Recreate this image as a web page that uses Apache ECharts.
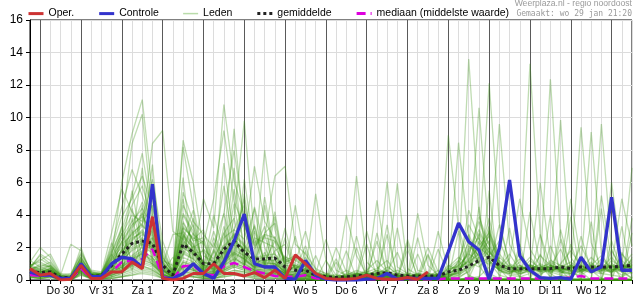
<!DOCTYPE html>
<html><head><meta charset="utf-8">
<script src="https://cdn.jsdelivr.net/npm/echarts@6/dist/echarts.min.js"></script>
<style>html,body{margin:0;padding:0;background:#fff}#c{width:635px;height:300px}</style>
</head><body><div id="c"></div>
<script>
// hours counted from wo 29 jan 00:00; 6-hourly steps
const startHour = 18;
const stepHours = 6;
const endHour = 372;
const dayLabels = ['Do 30','Vr 31','Za 1','Zo 2','Ma 3','Di 4','Wo 5','Do 6','Vr 7','Za 8','Zo 9','Ma 10','Di 11','Wo 12'];
const yTicks = [0, 16, 2];

const oper = [0.7,0.3,0.4,0.0,0.05,0.9,0.1,0.1,0.5,0.5,1.1,0.7,3.9,0.1,0.0,0.1,0.4,0.4,1.0,0.4,0.4,0.25,0.45,0.15,0.6,0.1,1.55,1.0,0.4,0.1,0.05,0.05,0.1,0.3,0.1,0.05,0.05,0.15,0.05,0.5];
const controle = [0.5,0.3,0.3,0.1,0.1,1.0,0.2,0.2,1.0,1.4,1.3,0.8,5.9,0.1,0.1,0.4,1.0,0.4,0.1,1.1,2.4,4.05,1.0,0.8,0.8,0.1,0.05,1.2,0.3,0.05,0,0,0,0.05,0.1,0.4,0.05,0.1,0.1,0.1,0.1,1.75,3.5,2.35,1.85,0.05,1.95,6.15,1.5,0.6,0.15,0.1,0.15,0.05,1.4,0.5,0.8,5.1,0.6,0.6];
const gemiddelde = [0.5,0.45,0.5,0.15,0.15,0.9,0.25,0.25,0.9,1.6,2.25,2.4,2.25,0.9,0.3,2.2,1.7,1.0,1.0,1.9,2.4,1.7,1.3,1.3,1.35,0.8,0.6,0.6,0.3,0.2,0.15,0.2,0.25,0.3,0.4,0.45,0.3,0.25,0.25,0.25,0.25,0.5,0.6,0.85,1.2,1.4,0.9,0.7,0.7,0.7,0.7,0.7,0.8,0.7,0.8,0.8,0.8,0.8,0.85,0.9];
const mediaan = [0.3,0.25,0.3,0.05,0.05,0.7,0.1,0.1,0.5,1.1,1.2,1.3,1.9,0.2,0.05,0.85,0.9,0.35,0.3,0.85,1.05,0.8,0.55,0.4,0.25,0.2,0.2,0.3,0.1,0.05,0.05,0.05,0.05,0.05,0.05,0.05,0.05,0.05,0.05,0.05,0.05,0.1,0.1,0.1,0.1,0.1,0.1,0.1,0.1,0.1,0.1,0.1,0.1,0.15,0.25,0.1,0.1,0.1,0.1,0.1];

const leden = [
[0.6,1.0,0.8,0.1,0,1.2,0.3,0.2, 0.8,1.5,3.2,4.1,2.5,0.6,0.1,2.8,1.9, 0.3,1.8,0.6,2.9,0.8,3.4,1.0,0.4,0.2, 0.4,0.3,0.1,0,0,0.1,0.2,0.1,0.3,0.2,0.1,0,0.1,0.2,0.1, 0.1,0.2,0.5,1.3,2.0,0.6,0.3,0.2,0.4,0.8,0.5,0.3,0.2,0.6,1.1,0.4,0.3,0.2,0.5],
[0.4,0.3,0.5,0.2,0.1,0.8,0.2,0.3, 0.5,1.9,0.6,2.2,3.0,0.3,0.2,1.5,2.9, 0.5,0.4,1.0,1.6,1.3,0.8,0.9,0.8,0.4, 0.2,0.5,0.2,0.1,0,0,0.1,0.3,2.4,0.4,0.2,0.1,0,0,0.1, 0,0,0.1,4.5,0.1,0,0,0,0.1,0,0,0.1,0,0,0.1,0,0,0.1,0],
[1.1,2.0,1.4,0.3,0.1,1.5,0.4,0.2, 2.1,4.5,6.8,5.2,3.4,1.2,0.3,3.6,2.4, 2.6,0.9,4.1,1.5,5.3,1.2,2.8,0.6,1.4, 1.2,0.8,0.3,0.2,0.1,0.4,0.2,0.1,0.2,0.6,0.3,0.2,0.4,0.3,0.2, 8.9,3.2,1.1,0.8,1.5,2.4,0.9,0.5,1.2,0.7,0.4,1.0,1.8,0.9,0.6,1.3,0.7,0.5,1.1],
[0.3,0.2,0.3,0,0,0.6,0.1,0.1, 0.3,0.6,1.1,1.5,1.2,0.3,0.1,0.9,0.7, 0.2,0.2,0.5,0.8,0.6,0.4,0.4,0.3,0.2, 0.1,0.1,0,1.2,0,0,0,0,0.1,0.1,0,0,0,0,0, 0,0.1,0.6,2.3,1.1,0.3,0.1,0,0,1.6,0.4,0,0,0.1,0,0,1.9,0.5,0.1],
[0.5,0.4,0.6,0.1,0.2,0.9,0.3,0.4, 1.0,2.2,2.8,3.5,4.6,1.5,0.4,2.2,1.8, 1.1,0.9,2.2,9.3,3.0,1.4,1.5,1.6,0.8, 0.6,1.4,0.4,0.2,0.1,0.1,0.3,0.6,1.2,0.5,0.2,0.1,0.2,0.1,0.3, 0.3,0.9,13.6,4.1,1.2,0.6,0.4,0.9,0.5,0.3,0.8,0.6,0.4,0.3,0.7,0.5,1.2,0.8,0.4],
[0.8,1.5,1.0,0.2,0,1.1,0.2,0.3, 1.4,6.0,9.0,11.1,5.3,2.0,0.5,4.1,3.0, 0.9,3.0,1.2,5.6,2.0,4.4,0.8,3.9,0.6, 4.6,1.0,0.5,0.3,0.2,0.3,0.6,0.4,0.3,0.8,0.4,0.3,0.2,0.4,0.3, 0,0,0,0.1,0,0,3.2,0.1,0,0,0,0,0.1,0,0,0,0.1,0,0],
[0.2,0.1,0.2,0,0,0.5,0.1,0, 0.2,0.4,0.7,0.9,0.6,0.2,0,0.5,0.4, 0.1,0.1,0.3,0.5,0.4,0.2,0.2,0.2,0.1, 0,0,0,0,0,0,0,0,0,0,0,0,0,0,0, 0.2,0.5,1.8,10.6,2.6,1.1,0.7,0.4,0.6,1.5,0.9,0.5,0.3,1.0,0.6,0.8,0.4,1.6,0.9],
[0.7,0.6,0.9,0.3,2.2,1.8,0.5,0.3, 1.2,1.8,2.4,3.1,2.2,0.9,0.3,8.6,6.0, 1.9,1.3,2.6,3.1,2.5,7.0,3.6,2.5,1.3, 0.8,0.6,5.3,1.2,0.3,0.2,0.4,0.3,0.6,0.4,0.3,0.2,0.3,0.2,0.4, 0.1,0,0.1,0.2,0.8,3.4,1.0,0.2,0.1,0,0,0.1,0,2.7,0.6,0.1,0,0,0],
[0.4,0.2,0.4,0.1,0.1,0.7,0.2,0.2, 1.6,0.4,3.1,0.9,2.6,0.5,1.4,0.6,2.1, 0.4,0.4,0.9,1.3,1.0,0.6,0.7,0.6,0.3, 0.3,0.2,1.5,0.1,0,0.1,0.1,0.2,0.1,0.3,0.1,0.1,0.1,0,0.1, 0.4,8.45,2.5,1.0,3.1,0.8,1.6,0.6,0.9,0.5,1.1,0.7,0.6,0.4,0.9,0.6,0.5,0.9,0.7],
[0.9,1.2,1.6,0.4,0.3,1.4,0.3,0.4, 2.9,5.6,4.2,3.3,8.4,9.2,3.0,2.5,1.6, 1.8,0.4,3.3,1.1,2.2,0.5,4.6,1.3,0.3, 0.9,0.7,0.2,0.1,0.1,4.0,1.5,0.3,0.2,0.4,0.6,0.3,0.2,0.3,0.2, 0,0.1,0,0,0.2,0.1,0,0,0,2.8,0,0,0,0,0.1,0,0,0.1,0],
[0.3,0.3,0.3,0.1,0,0.6,0.2,0.3, 0.4,0.8,1.3,1.7,1.4,0.4,0.1,1.1,0.9, 0.3,0.3,0.7,1.1,0.8,0.5,0.5,0.5,0.3, 0.2,0.1,0.1,0,0,0,0.1,0.1,0.2,0.1,0.1,0,0.1,0.1,0, 0.5,1.1,3.4,2.2,12.1,3.5,1.0,0.7,1.4,0.6,0.8,1.9,0.5,0.7,0.4,1.0,0.8,0.6,1.3],
[0.5,0.5,0.7,0.2,0.1,1.0,0.4,0.2, 0.9,1.4,2.0,2.6,2.1,0.7,0.2,2.0,1.5, 5.0,3.2,10.8,6.1,4.0,2.3,2.8,2.6,1.2, 1.5,0.9,0.4,0.3,0.2,0.1,0.2,0.5,0.4,0.3,0.2,0.4,0.3,0.2,0.6, 0,0,0.2,0.1,0,0,0.1,0,4.2,0.9,0.2,0,0.1,0,0,0,2.4,0.6,0.1],
[1.2,0.8,0.6,0.1,0,0.8,0.1,0.1, 0.7,2.4,0.8,4.2,1.3,1.1,0.3,3.2,0.6, 0.7,0.6,1.4,1.9,1.5,0.9,1.0,1.0,0.5, 0.4,0.6,0.2,0.1,0.1,1.8,0.1,0.2,0.4,0.3,0.1,0.1,0.2,0.1,0.2, 0.2,0.6,1.2,2.8,1.6,9.6,2.2,0.9,0.5,0.8,0.6,0.4,0.9,0.6,1.4,0.7,0.9,0.5,0.8],
[0.1,0.1,0.2,0,0,0.4,0,0.1, 0.1,0.2,0.4,0.6,0.5,0.1,0,0.3,0.2, 0.1,0.1,0.2,0.3,0.2,0.1,0.1,0.1,0.1, 0,0,0,0,0,0,0,0,2.9,0.4,0,0,0,0,0, 0,0,0,0,0.1,0,0,0,0,0,0,0,0,0,0,0,0,0,0],
[0.6,0.7,0.5,0.2,0.3,1.3,0.5,0.4, 1.5,2.6,3.6,4.4,3.3,1.4,0.4,3.0,2.2, 0.6,2.3,1.0,3.8,1.2,0.8,2.9,3.5,0.9, 0.7,1.1,0.3,0.2,0.1,0.1,0.4,0.2,4.9,0.9,0.3,0.2,0.3,0.2,0.2, 0.8,1.4,0.9,1.9,2.7,1.3,5.8,1.5,0.8,0.6,1.2,0.9,0.7,2.1,0.8,0.6,1.0,0.7,0.9],
[0.4,0.3,0.6,0.1,0.1,0.7,0.2,0.3, 0.6,1.1,1.9,2.3,2.0,0.6,0.2,1.6,1.3, 0.6,0.5,1.2,1.7,1.3,0.8,0.9,0.8,0.4, 0.3,0.3,0.1,0.1,1.3,0.1,0.1,0.1,0.2,0.2,0.1,0.1,0.1,0.1,0.1, 0.1,0,0.1,1.5,0.4,0.1,0,0,0.1,0,0,3.1,0.7,0,0,0.1,0,0,1.4],
[0.7,1.6,1.2,0.3,0.2,2.0,0.3,0.2, 1.8,3.1,5.2,7.8,4.0,1.3,0.5,8.2,4.5, 1.5,1.1,2.9,3.8,9.8,2.6,2.3,2.0,1.0, 1.1,3.0,0.6,0.4,0.2,0.3,0.5,0.4,0.3,6.05,0.8,0.4,0.3,0.2,0.3, 0.3,0.4,2.1,1.5,0.9,0.7,1.3,5.0,1.9,0.9,0.5,0.8,1.1,0.6,0.9,1.5,0.6,0.8,1.6],
[0.3,0.2,0.3,0,0,0.5,0.1,0.2, 0.3,0.5,0.9,1.2,1.0,0.3,0.1,0.8,0.6, 0.3,0.2,0.6,0.9,0.7,0.4,0.4,0.4,0.2, 0.1,0.2,0.1,0,0,0,0.1,0,0.1,0.1,0.1,0,1.6,0.1,0, 0,0,0,0.1,0,0,0,0,0,0.1,0,0,3.9,0,0,0,0,0.1,0],
[0.5,0.4,0.4,0.2,0.1,0.9,0.3,0.3, 0.4,2.9,1.1,1.7,5.1,0.8,0.3,2.1,3.4, 0.8,0.7,1.6,2.1,1.7,1.0,1.1,1.0,0.5, 0.5,0.4,0.2,0.1,0.1,0.1,0.2,2.2,0.2,0.3,0.2,0.1,0.2,0.1,0.2, 0.6,0.9,1.5,3.6,2.1,0.9,0.6,1.1,13.3,2.8,0.9,0.6,0.8,0.5,1.0,0.7,1.4,0.6,0.5],
[0.9,0.5,0.7,0.1,0,0.8,0.2,0.4, 1.1,1.4,2.5,3.0,1.9,0.6,0.2,2.6,2.0, 2.4,0.6,1.1,4.7,0.9,2.6,0.7,1.8,2.2, 0.6,2.1,0.3,0.2,0.1,0.2,0.3,0.2,0.4,0.2,0.3,0.2,0.1,0.2,0.1, 0,0,2.6,0.9,0,0,0,0.1,0,0,0,0.1,0,0,0.1,5.2,1.1,0,0],
[0.2,0.1,0.1,0,0,0.3,0.1,0.1, 0.1,0.2,0.3,0.4,0.3,0.1,0,0.2,0.2, 0.1,0.1,0.2,0.3,0.3,0.1,0.1,0.1,0.1, 0,0,0,0,0,0,0,0,0,0,0,2.3,0,0,0, 0.1,0.3,0.7,1.1,1.8,0.5,0.4,0.3,0.7,6.0,1.3,0.5,0.4,0.9,0.5,0.4,0.7,0.3,0.6],
[0.6,0.9,0.8,0.3,0.4,1.6,0.6,0.5, 1.6,3.3,8.4,10.2,3.8,1.6,0.6,3.2,2.6, 2.2,5.0,9.2,4.8,3.3,2.1,2.6,2.4,1.1, 1.3,0.8,0.4,2.5,0.6,0.3,6.4,1.1,0.5,0.4,0.3,0.2,0.4,0.3,0.2, 0,0,0,0,0,0,0,0,0,0,0,0,0,0,0,4.4,0,0,0],
[0.4,0.3,0.5,0.1,0.1,0.8,0.2,0.2, 0.5,0.8,1.2,1.6,1.3,0.4,0.1,1.0,0.8, 0.4,0.3,0.8,1.2,0.9,0.6,0.6,0.6,0.3, 0.2,0.3,0.1,0.1,0,0.1,0.1,0.2,0.1,0.2,0.1,0.1,0.1,0.1,0.1, 0.4,0.7,1.0,2.4,1.4,0.8,0.5,0.6,0.9,0.7,12.35,2.6,0.8,0.6,0.7,0.9,0.5,1.0,0.8],
[0.8,1.3,0.9,0.2,0.1,1.1,0.3,0.3, 1.3,2.0,2.9,3.4,2.7,1.0,0.3,2.7,2.1, 0.5,1.7,5.8,2.1,3.6,0.9,1.4,4.2,0.6, 0.8,0.6,0.3,0.2,0.1,0.2,0.2,0.4,0.3,0.5,1.7,0.2,0.3,0.2,0.3, 0.1,0.1,0,0.1,0,0,0,1.8,0.5,0,0,0,0,0.1,0,0,0.1,0,3.8],
[0.3,0.2,0.4,0.1,0,0.6,0.1,0.2, 0.4,0.7,1.0,1.4,1.1,0.3,0.1,0.9,0.7, 0.3,0.3,0.6,1.0,0.8,0.5,0.5,0.4,0.2, 0.1,0.1,0.1,0,0,0,0,0.1,0.1,0,3.2,0,0,0,0.1, 0.2,0.3,0.8,1.7,3.3,1.0,0.6,0.4,0.5,0.8,0.6,9.85,1.4,0.5,0.8,0.6,0.9,0.7,0.6],
[0.5,0.4,0.6,0.2,0.2,1.0,0.4,0.3, 0.8,0.5,3.8,1.4,3.2,1.2,0.9,5.0,1.5, 0.9,0.8,1.7,2.3,1.9,1.1,1.2,1.2,0.6, 0.5,0.7,0.2,0.1,2.0,0.5,0.2,0.1,0.3,0.2,0.1,0.1,0.2,0.1,0.2, 0,0,0,0,0.1,0,0,0,0,0,0,0,0,0,0,0,0,3.3,0.1],
[1.0,0.6,0.5,0.1,0,0.7,0.2,0.1, 1.0,1.7,2.6,2.9,2.2,0.7,0.2,2.4,1.8, 1.1,0.9,2.0,2.7,2.1,1.3,8.0,3.1,0.9, 0.9,0.5,0.3,0.2,0.1,0.1,0.3,3.0,0.8,0.3,0.2,0.3,0.2,0.3,0.2, 0.7,1.2,2.8,1.3,1.1,0.6,0.8,0.5,1.0,0.6,0.9,0.7,5.0,1.2,0.6,0.8,0.5,0.9,0.7],
[0.4,0.3,0.3,0.1,0.1,0.9,0.3,0.4, 0.6,0.9,1.5,2.0,1.7,0.5,0.2,1.4,1.1, 0.5,0.4,1.1,1.5,1.2,0.7,0.8,0.7,0.4, 0.3,0.2,0.1,0.1,0,0.1,0.1,0.1,0.2,0.1,0.1,0.1,0,0.1,0.1, 0,0,0.1,0,0,0,0.1,0,0,0,2.1,0.6,0,0,0,0,0,0,0],
[0.6,0.5,0.7,0.2,0.1,1.2,0.2,0.3, 1.2,2.4,3.4,3.9,2.9,1.0,0.4,3.3,2.5, 3.1,1.0,2.0,0.7,6.2,1.9,3.3,0.8,1.5, 0.7,0.9,0.4,0.2,0.1,0.2,0.3,0.2,0.5,0.6,5.95,0.7,0.3,0.2,0.3, 0.3,0.5,1.3,2.0,1.5,0.7,0.5,0.8,0.6,1.0,0.7,0.5,0.6,9.4,2.3,0.7,0.8,0.6,1.0],
[0.2,0.1,0.2,0,0,0.4,0.1,0.1, 0.2,0.3,0.5,0.7,0.6,0.2,0,0.4,0.3, 0.2,0.2,0.4,0.6,0.5,0.3,0.3,0.3,0.1, 0,0.1,0,0,0,0,2.7,0.3,0,0,0,0,0,0,0, 0,0,0,0,0,0.1,0,0,0,0,0,2.5,0,0,0,0,0,0,0],
[0.7,0.8,1.1,0.3,0.2,1.4,0.4,0.3, 1.7,2.8,4.0,3.6,6.2,2.4,0.7,5.4,3.6, 2.8,2.0,4.1,8.0,3.6,2.2,2.7,6.4,7.0, 2.2,1.6,0.7,0.4,0.3,0.2,0.4,0.3,0.2,0.3,0.2,2.5,0.6,0.4,0.3, 0.9,0.6,4.3,2.5,1.7,1.2,0.7,1.3,0.8,0.5,0.9,0.6,0.7,0.8,9.1,1.6,0.6,0.9,0.8],
[0.3,0.2,0.4,0.1,0,0.6,0.2,0.2, 0.4,0.6,1.0,1.3,1.0,0.3,0.1,0.8,0.6, 0.3,0.3,0.7,1.0,0.8,0.5,0.5,0.5,0.2, 0.2,0.2,0.1,0,0,0.1,0.1,0.1,0.1,0.1,0,0.1,0.1,0,0.1, 0,0,0,0.1,3.0,0.7,0,0,0,0,0,0,0,0,0,0,0,0,0],
[0.5,0.3,0.5,0.1,0.1,0.8,0.3,0.3, 2.3,0.7,1.2,4.6,1.0,0.6,0.2,1.6,3.8, 0.7,0.6,1.3,1.8,1.5,0.9,0.9,0.9,0.4, 0.4,0.3,0.2,0.1,0.1,0.1,0.2,0.2,0.3,0.2,0.1,0.1,2.6,0.1,0.1, 0.4,0.8,1.1,1.6,2.4,0.9,0.6,0.5,0.7,0.6,0.8,0.7,0.5,0.9,0.6,9.6,1.8,0.7,0.9],
[0.9,1.1,0.8,0.2,0.3,1.7,0.5,0.4, 1.9,3.9,5.0,6.4,4.4,1.8,0.5,4.6,3.3, 0.8,4.0,1.6,6.9,1.3,3.0,1.1,2.4,0.4, 1.0,0.8,0.3,0.3,0.2,0.3,0.4,0.3,0.4,0.5,0.3,0.2,4.1,0.9,0.3, 0.1,3.0,0,0,0,0,0,0,0,0,0.1,0,0,0,0,0,0,0,0],
[0.4,0.2,0.3,0.1,0,0.5,0.1,0.2, 0.3,0.5,0.8,1.0,0.8,0.2,0.1,0.6,0.5, 0.2,0.2,0.5,0.8,0.6,0.3,0.4,0.3,0.2, 0.1,0.1,0,0,0,0,0.1,0,0.1,3.4,0,0,0.1,0,0, 0.2,0.4,0.9,2.9,1.9,0.6,0.4,0.7,0.5,0.4,0.6,0.8,0.6,0.5,0.7,0.6,6.0,1.2,0.6],
[0.6,0.4,0.6,0.2,0.1,0.9,0.2,0.3, 0.8,1.3,2.2,2.4,2.0,0.7,0.2,2.0,1.6, 0.9,0.7,1.7,2.2,1.7,1.0,1.1,1.1,0.5, 0.5,0.4,0.2,0.1,0.1,0.1,0.2,0.2,0.3,2.8,0.2,0.1,0.1,0.2,0.1, 0,0,0,0,0,0,0,0,0,0,4.0,0,0,0,0,0,0,0,0.1],
[0.3,0.3,0.4,0.1,0.1,0.7,0.3,0.2, 0.5,0.9,1.4,1.8,1.4,0.4,0.1,1.2,1.0, 0.5,0.4,1.0,1.4,1.1,0.6,0.7,0.6,0.3, 0.3,0.3,0.1,0.1,0,0.1,0.1,0.2,0.1,0.2,0.1,0.1,0.1,0.1,0.2, 0.5,0.9,1.6,1.2,1.0,1.4,0.8,0.6,0.9,0.7,0.5,0.9,0.8,0.6,0.8,0.7,0.9,5.0,2.1],
[0.7,0.5,0.5,0.1,0,1.0,0.2,0.1, 0.4,1.9,5.5,2.1,2.6,0.9,2.8,2.9,0.9, 1.9,0.5,2.9,1.4,0.9,4.5,2.0,0.7,3.2, 0.7,0.4,0.3,0.2,0.1,0.2,0.3,0.2,0.4,0.4,0.2,0.2,0.3,2.0,0.5, 0,0,0,0,0,0,0,2.2,0.1,0,0,0,0,0,0,0,0,0,0],
[0.5,0.4,0.6,0.2,0.2,1.1,0.4,0.4, 0.9,1.5,2.2,2.8,2.3,0.8,0.2,2.3,1.7, 0.9,0.8,1.8,2.4,1.9,1.1,1.2,1.2,0.6, 0.6,0.6,0.2,0.2,0.1,0.1,0.2,0.3,0.3,0.2,0.2,0.1,0.2,0.1,1.9, 0.3,0.6,1.4,3.9,2.2,0.8,0.5,0.6,0.8,0.5,0.7,0.6,0.9,0.7,0.5,0.8,0.6,0.8,6.9],
[0.2,0.1,0.2,0,0,0.3,0.1,0.1, 0.1,0.2,0.3,0.5,0.4,0.1,0,0.3,0.2, 0.1,0.1,0.3,0.4,0.3,0.2,0.2,0.1,0.1, 0,1.8,0,0,0,0,0,0,0,0,0,0,0,0,0, 0,0,0,0,5.5,0,0,0,0,0,0,0,0,0,0,0,0,0,0],
[0.8,0.7,0.9,0.3,0.1,1.2,0.3,0.3, 1.4,2.3,3.3,4.8,3.1,1.1,0.4,3.5,2.4, 0.7,2.6,1.2,3.1,4.6,1.0,5.1,1.6,0.5, 0.9,0.7,0.4,0.3,0.1,0.2,0.4,0.3,0.6,0.4,0.3,0.2,0.3,0.2,3.0, 0.6,1.0,2.3,1.5,3.8,1.1,0.7,0.9,0.6,0.8,1.0,0.6,0.7,1.1,0.6,0.5,0.9,0.6,1.2],
[0.4,0.3,0.4,0.1,0.1,0.6,0.2,0.2, 0.5,0.8,1.3,1.6,1.2,0.4,0.1,1.1,0.9, 0.4,0.4,0.9,1.3,1.0,0.6,0.6,0.6,0.3, 0.2,0.2,0.1,0.1,0,0,2.0,0.1,0.2,0.1,0.1,0,0.1,0.1,0.1, 0,0,0,0.1,0,0,0,0,0,0,0,0,2.2,0.5,0,0.1,0,0,0],
[0.6,0.5,0.6,0.2,0,0.9,0.3,0.3, 0.8,3.3,1.0,2.5,7.1,0.6,0.2,1.8,1.4, 0.8,0.7,1.5,2.0,1.6,1.0,1.0,1.0,0.5, 0.5,0.4,0.2,0.1,0.1,0.1,0.2,0.2,0.2,0.3,0.1,1.9,0.2,0.1,0.2, 0.2,0.5,1.9,2.6,1.4,0.7,0.9,0.5,0.7,0.9,0.6,0.8,0.5,0.6,0.9,0.7,0.6,0.9,0.8],
[0.3,0.2,0.3,0.1,0.1,0.5,0.1,0.2, 0.3,0.5,0.9,1.1,0.9,0.3,0.1,0.7,0.6, 0.3,0.2,0.6,0.9,0.7,0.4,0.4,0.4,0.2, 0.1,0.1,0,0,1.1,0,0,0.1,0,0.1,0,0,0,0,0, 0,0,0,0,0,0,0,0,0,0,0,0,0,0,3.6,0,0,0,0],
[0.5,0.6,0.8,0.2,0.2,1.3,0.4,0.3, 1.3,2.9,4.6,5.8,3.7,1.4,0.5,4.0,2.8, 2.3,0.8,7.2,2.6,1.8,3.3,0.9,2.7,1.1, 1.4,0.9,0.5,0.3,0.2,0.6,0.3,0.5,0.7,1.2,0.4,0.3,0.2,0.3,0.4, 0.4,0.7,1.2,2.1,2.9,1.6,0.8,0.6,0.9,0.7,0.8,0.6,0.9,0.7,0.6,0.8,0.7,0.6,0.9],
[0.7,0.4,0.5,0.1,0,0.8,0.2,0.2, 0.7,1.2,1.8,2.2,1.9,0.6,0.2,1.7,1.3, 0.6,0.5,1.2,1.7,1.4,0.8,0.8,0.8,0.4, 2.7,0.3,0.2,0.1,0.1,0.1,0.1,0.2,0.2,0.2,0.1,0.1,0.1,0.1,0.1, 0,1.2,0.3,0,0,0,0.1,0,0,0,0,0,0,0,0,0,0,0,0],
[0.4,0.3,0.4,0.2,0.1,0.7,0.3,0.4, 0.9,0.6,2.4,6.9,1.5,0.9,0.3,2.5,4.3, 0.4,1.9,0.8,2.3,5.0,0.7,1.7,0.5,2.6, 0.6,0.5,0.2,0.2,0.1,0.2,0.2,0.2,0.3,0.3,0.2,0.1,0.2,1.6,0.2, 0.7,0.8,1.7,3.1,1.8,0.9,0.6,0.8,0.7,0.6,0.9,0.7,0.6,0.8,0.7,0.6,0.8,0.9,0.7],
[0.6,0.5,0.7,0.1,0.1,1.0,0.2,0.3, 1.0,1.8,2.7,3.3,2.8,1.0,0.3,2.8,2.2, 1.1,0.9,2.1,2.8,2.2,1.3,1.4,1.4,0.7, 0.7,0.6,0.3,0.1,0.1,0.1,0.3,0.3,0.4,0.3,0.2,0.2,0.2,0.1,0.3, 0,0,0,0,0,0,0,0,0,0,0,0,0,0,0,0,0,0,2.9],
[0.2,0.2,0.3,0,0,0.4,0.1,0.1, 0.2,0.4,0.6,0.8,0.7,0.2,0,0.5,0.4, 0.2,0.2,0.4,0.6,0.5,0.3,0.3,0.3,0.1, 0.1,0,0,0,0,0,0,0,0.1,0,0,0,0,1.5,0, 0.3,0.4,0.9,1.4,1.2,0.6,0.5,0.4,0.6,0.5,0.6,0.5,0.4,0.6,0.5,0.7,0.5,0.6,0.7],
[0.5,0.4,0.5,0.2,0.1,0.8,0.3,0.2, 0.6,1.0,4.4,2.0,0.9,0.5,0.2,6.3,1.1, 0.6,0.5,1.2,1.6,1.3,0.7,0.8,0.7,0.4, 0.3,0.4,0.1,0.1,0,0.1,0.1,0.2,0.2,0.1,0.1,0.1,0.1,0.1,0.1, 0,0,0,0,0,0,0,0,0,0,0,0,0,0,0,0,0,1.7,0.4]
];

const hourAt = i => startHour + i * stepHours;
const pairs = arr => arr.map((v, i) => [hourAt(i), v]);
const dayLines = dayLabels.map((_, k) => ({xAxis: 24 * (k + 1)})).concat([{xAxis: 24 * (dayLabels.length + 1)}]);

const FONT = '"Liberation Sans", Arial, sans-serif';
const memberColor = 'rgba(60,150,20,0.33)';
const series = [];
series.push({
  type: 'line', data: [], silent: true, z: 1, animation: false,
  markLine: {silent: true, symbol: ['none','none'], z: 1, animation: false,
    label: {show: false}, lineStyle: {color: '#5a5a5a', width: 1, type: 'solid'}, data: dayLines}
});
leden.forEach(row => series.push({
  name: 'Leden', type: 'line', data: pairs(row), symbol: 'none', silent: true, z: 2,
  color: memberColor, lineStyle: {color: memberColor, width: 1.3}, animation: false
}));
series.push({name: 'mediaan (middelste waarde)', type: 'line', data: pairs(mediaan), symbol: 'none', silent: true, z: 3,
  color: '#dd00dd', lineStyle: {color: '#dd00dd', width: 2.5, type: [9, 5]}, animation: false});
series.push({name: 'gemiddelde', type: 'line', data: pairs(gemiddelde), symbol: 'none', silent: true, z: 4,
  color: '#222', lineStyle: {color: '#222', width: 3, type: [3, 3]}, animation: false});
series.push({name: 'Controle', type: 'line', data: pairs(controle), symbol: 'none', silent: true, z: 5,
  color: '#3333cc', lineStyle: {color: '#3333cc', width: 3.3}, animation: false});
series.push({name: 'Oper.', type: 'line', data: pairs(oper), symbol: 'none', silent: true, z: 6,
  color: '#cc3333', lineStyle: {color: '#cc3333', width: 3}, animation: false});

const hidden = {opacity: 0, color: 'rgba(0,0,0,0)', borderColor: 'rgba(0,0,0,0)', borderWidth: 0};
const chart = echarts.init(document.getElementById('c'), null, {renderer: 'canvas'});
chart.setOption({
  animation: false,
  backgroundColor: '#fff',
  textStyle: {fontFamily: FONT},
  grid: {left: 30, right: 1, top: 20, bottom: 20, show: true, borderColor: '#000', borderWidth: 1, backgroundColor: 'transparent'},
  legend: {
    left: 27, top: 8, padding: 0, itemWidth: 15, itemHeight: 14, itemGap: 23.5, selectedMode: false,
    itemStyle: hidden,
    textStyle: {fontSize: 10.5, color: '#000', fontFamily: FONT},
    data: [
      {name: 'Oper.', lineStyle: {width: 3}, itemStyle: hidden},
      {name: 'Controle', lineStyle: {width: 3}, itemStyle: hidden},
      {name: 'Leden', lineStyle: {width: 1.5, color: '#b9dcaa'}, itemStyle: hidden},
      {name: 'gemiddelde', lineStyle: {width: 3}, itemStyle: hidden},
      {name: 'mediaan (middelste waarde)', lineStyle: {width: 3}, itemStyle: hidden}
    ]
  },
  graphic: [
    {type: 'text', right: 3, top: -1, style: {text: 'Weerplaza.nl - regio noordoost', fill: '#9a9a9a', font: '8.6px "Liberation Sans", Arial, sans-serif'}},
    {type: 'text', right: 3, top: 10, style: {text: 'Gemaakt: wo 29 jan 21:20', fill: '#9a9a9a', font: '8px "DejaVu Sans Mono", monospace'}}
  ],
  xAxis: {
    type: 'value', min: startHour, max: endHour, interval: stepHours,
    axisLine: {show: true, lineStyle: {color: '#000', width: 1}},
    axisTick: {show: true, length: 4, lineStyle: {color: '#000'}},
    splitLine: {show: true, lineStyle: {color: '#dcdcdc', width: 1}},
    axisLabel: {margin: 6, fontSize: 10.5, color: '#000', fontFamily: FONT,
      formatter: v => (v % 24 === 12 ? (dayLabels[(v - 36) / 24] || '') : '')}
  },
  yAxis: {
    type: 'value', min: yTicks[0], max: yTicks[1], interval: yTicks[2],
    axisLine: {show: true, lineStyle: {color: '#000', width: 1}},
    axisTick: {show: true, length: 4, lineStyle: {color: '#000'}},
    splitLine: {show: true, lineStyle: {color: '#dcdcdc', width: 1}},
    axisLabel: {margin: 7, fontSize: 12, color: '#000', fontFamily: FONT}
  },
  series: series
});
</script>
</body></html>
